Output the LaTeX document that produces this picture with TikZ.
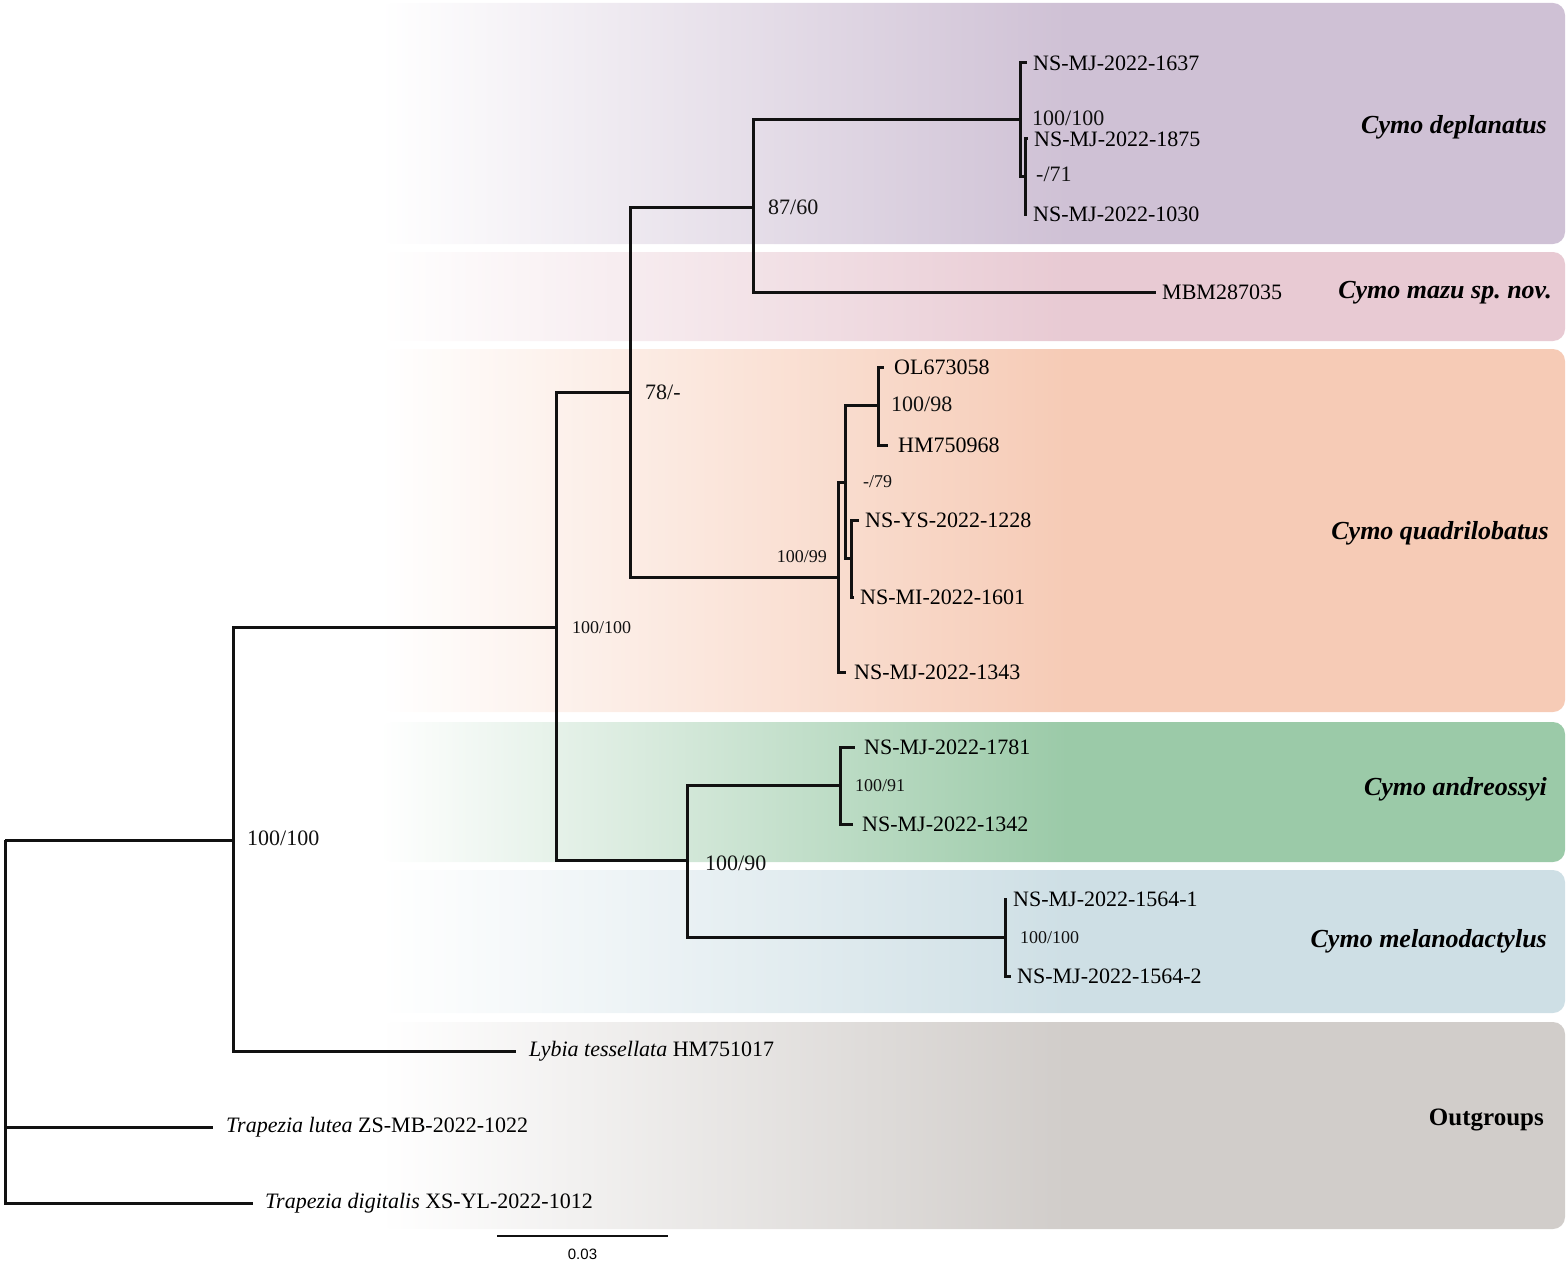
\documentclass[tikz,border=0pt]{standalone}
\usepackage{fontspec}
\setmainfont{Liberation Serif}
\newfontfamily\barfont{Liberation Sans}
\usepackage{xcolor}
\usepackage{tikz}
\usetikzlibrary{positioning, calc}
\definecolor{bandDeplan}{HTML}{CFC1D5}
\definecolor{bandMazu}{HTML}{E8CAD3}
\definecolor{bandQuadri}{HTML}{F6CBB6}
\definecolor{bandAndre}{HTML}{9BCAA8}
\definecolor{bandMelano}{HTML}{CEDFE5}
\definecolor{bandOut}{HTML}{D1CDCA}
\definecolor{treeLine}{HTML}{111111}
\newcommand{\bandshading}[2]{%
  \pgfdeclarehorizontalshading{#1}{100bp}{color(0bp)=(white); color(25bp)=(white);
    color(54bp)=(#2); color(100bp)=(#2)}}
\bandshading{fadeDeplan}{bandDeplan}
\bandshading{fadeMazu}{bandMazu}
\bandshading{fadeQuadri}{bandQuadri}
\bandshading{fadeAndre}{bandAndre}
\bandshading{fadeMelano}{bandMelano}
\bandshading{fadeOut}{bandOut}

\begin{document}
\begin{tikzpicture}[x=1pt, y=-1pt,
  every node/.style={font=\fontsize{22}{26}\selectfont, inner sep=0pt},
  band/.style={rounded corners=12pt},
  branch/.style={draw=treeLine, line width=3pt},
  tip/.style={anchor=west, inner xsep=6pt, inner ysep=0pt},
  outtip/.style={tip, inner xsep=13pt},
  supp/.style={anchor=west, text=treeLine},
  suppsm/.style={supp, font=\fontsize{18}{22}\selectfont},
  clade/.style={anchor=east, font=\fontsize{26}{30}\selectfont\bfseries\itshape},
]
  \useasboundingbox (0,0) rectangle (1567,1271);

  % clade bands
  \path[band, shading=fadeDeplan]  (380,3)    rectangle (1565,244);
  \path[band, shading=fadeMazu]    (380,252)  rectangle (1565,341);
  \path[band, shading=fadeQuadri]  (380,349)  rectangle (1565,712);
  \path[band, shading=fadeAndre]   (380,722)  rectangle (1565,862);
  \path[band, shading=fadeMelano]  (380,870)  rectangle (1565,1013);
  \path[band, shading=fadeOut]     (380,1022) rectangle (1565,1229);

  \node[clade] (lbl_deplan) at (1547,127)  {Cymo deplanatus};
  \node[clade] (lbl_mazu)   at (1552,293)  {Cymo mazu sp.\ nov.};
  \node[clade] (lbl_quadri) at (1549,533)  {Cymo quadrilobatus};
  \node[clade] (lbl_andre)  at (1547,789)  {Cymo andreossyi};
  \node[clade] (lbl_melano) at (1547,941)  {Cymo melanodactylus};
  \node[clade, font=\fontsize{25}{30}\selectfont\bfseries] (lbl_out) at (1544,1120) {Outgroups};

  % internal nodes
  \coordinate (root)   at (5,840);
  \coordinate (n_lyb)  at (233,840);
  \coordinate (n_cymo) at (556,627);
  \coordinate (n_cq)   at (630,392);
  \coordinate (n_dm)   at (753,207);
  \coordinate (n_dep)  at (1020,120);
  \coordinate (n_dep2) at (1025.5,177);
  \coordinate (n_qua)  at (838,577);
  \coordinate (n_qua2) at (845.5,482);
  \coordinate (n_qua3) at (878,405);
  \coordinate (n_qua4) at (851,558);
  \coordinate (n_am)   at (687,860);
  \coordinate (n_and)  at (840,785);
  \coordinate (n_mel)  at (1005,937);

  % tips
  \node[tip] (t1637) at (1027,63)  {NS-MJ-2022-1637};
  \node[tip] (t1875) at (1028,139) {NS-MJ-2022-1875};
  \node[tip] (t1030) at (1027,214) {NS-MJ-2022-1030};
  \node[tip] (tmbm)  at (1156,292) {MBM287035};
  \node[tip, inner xsep=10pt] (tol) at (884,367) {OL673058};
  \node[tip, inner xsep=10pt] (thm) at (888,445) {HM750968};
  \node[tip] (t1228) at (859,520)  {NS-YS-2022-1228};
  \node[tip] (t1601) at (854,597)  {NS-MI-2022-1601};
  \node[tip, inner xsep=8pt] (t1343) at (846,672) {NS-MJ-2022-1343};
  \node[tip, inner xsep=9pt] (t1781) at (855,747) {NS-MJ-2022-1781};
  \node[tip, inner xsep=9pt] (t1342) at (853,824) {NS-MJ-2022-1342};
  \node[tip] (t15641) at (1007,899) {NS-MJ-2022-1564-1};
  \node[tip] (t15642) at (1011,976) {NS-MJ-2022-1564-2};
  \node[outtip] (tlyb) at (516,1051)  {\textit{Lybia tessellata} HM751017};
  \node[outtip] (tlut) at (213,1127)  {\textit{Trapezia lutea} ZS-MB-2022-1022};
  \node[outtip, inner xsep=12pt] (tdig) at (253,1203) {\textit{Trapezia digitalis} XS-YL-2022-1012};

  % branches
  \draw[branch] (root) |- (n_lyb);
  \draw[branch] (root) |- (tlut.west);
  \draw[branch] (root) |- (tdig.west);
  \draw[branch] (n_lyb) |- (n_cymo);
  \draw[branch] (n_lyb) |- (tlyb.west);
  \draw[branch] (n_cymo) |- (n_cq);
  \draw[branch] (n_cymo) |- (n_am);
  \draw[branch] (n_cq) |- (n_dm);
  \draw[branch] (n_cq) |- (n_qua);
  \draw[branch] (n_dm) |- (n_dep);
  \draw[branch] (n_dm) |- (tmbm.west);
  \draw[branch] (n_dep) |- (t1637.west);
  \draw[branch] (n_dep) |- (n_dep2);
  \draw[branch] (n_dep2) |- (t1875.west);
  \draw[branch] (n_dep2) |- (t1030.west);
  \draw[branch] (n_qua) |- (n_qua2);
  \draw[branch] (n_qua) |- (t1343.west);
  \draw[branch] (n_qua2) |- (n_qua3);
  \draw[branch] (n_qua2) |- (n_qua4);
  \draw[branch] (n_qua3) |- (tol.west);
  \draw[branch] (n_qua3) |- (thm.west);
  \draw[branch] (n_qua4) |- (t1228.west);
  \draw[branch] (n_qua4) |- (t1601.west);
  \draw[branch] (n_am) |- (n_and);
  \draw[branch] (n_am) |- (n_mel);
  \draw[branch] (n_and) |- (t1781.west);
  \draw[branch] (n_and) |- (t1342.west);
  \draw[branch] (n_mel) |- (t15641.west);
  \draw[branch] (n_mel) |- (t15642.west);

  % support values
  \node[supp]   (s_lyb)  at (247,838) {100/100};
  \node[suppsm] (s_cymo) at (572,628) {100/100};
  \node[supp]   (s_cq)   at (645,392) {78/-};
  \node[supp]   (s_dm)   at (768,207) {87/60};
  \node[supp]   (s_dep)  at (1032,118) {100/100};
  \node[supp]   (s_dep2) at (1036,174) {-/71};
  \node[suppsm, anchor=east] (s_qua) at (827,557) {100/99};
  \node[suppsm] (s_qua2) at (863,482) {-/79};
  \node[supp]   (s_qua3) at (891,404) {100/98};
  \node[supp]   (s_am)   at (705,863) {100/90};
  \node[suppsm] (s_and)  at (855,786) {100/91};
  \node[suppsm] (s_mel)  at (1020,938) {100/100};

  % scale bar
  \coordinate (bar_l) at (497,1236);
  \coordinate (bar_r) at (668,1236);
  \draw[draw=treeLine, line width=1.8pt] (bar_l) -- (bar_r);
  \node[below=13pt of $(bar_l)!0.5!(bar_r)$, font=\barfont\fontsize{15}{18}\selectfont] (bar_lbl) {0.03};
\end{tikzpicture}
\end{document}
